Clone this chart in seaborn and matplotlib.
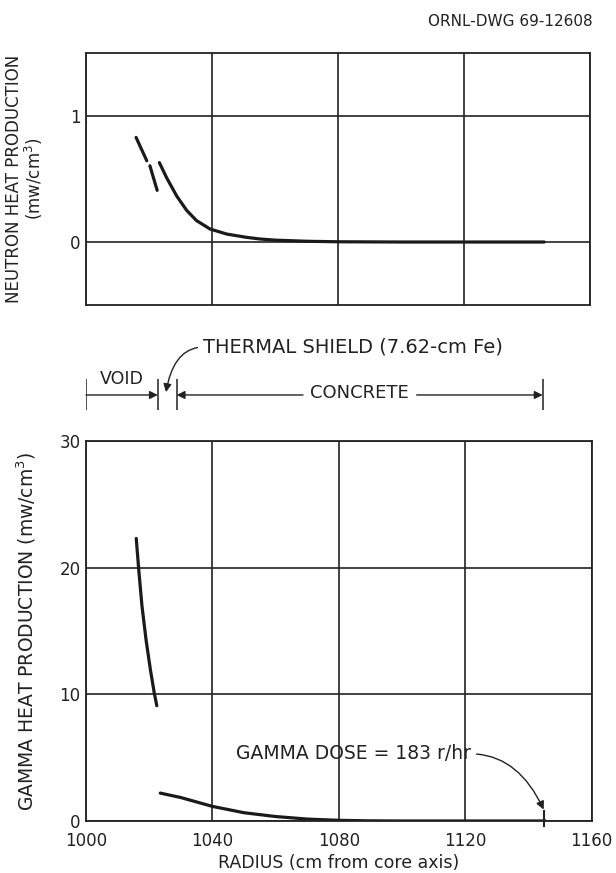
import numpy as np
import pandas as pd
import matplotlib
matplotlib.use("Agg")
import matplotlib.pyplot as plt
import seaborn as sns

# ---------------- data ----------------
neutron_seg = [0, 0, 1, 1,
               2, 2, 2, 2, 2, 2, 2, 2, 2, 2, 2, 2, 2, 2, 2]
neutron_r = [1015.9, 1019.3, 1020.3, 1022.6,
             1023.3, 1025.6, 1028.8, 1032.0, 1035.1, 1039.4, 1044.7, 1051.0,
             1055.2, 1060.0, 1070.0, 1080.0, 1090.0, 1100.0, 1145.5]
neutron_q = [0.83, 0.645, 0.605, 0.41,
             0.63, 0.51, 0.365, 0.25, 0.17, 0.103, 0.063, 0.037,
             0.024, 0.015, 0.006, 0.002, 0.001, 0.0, 0.0]

gamma_seg = [0, 0, 0, 0, 0, 0, 0,
             1, 1, 1, 1, 1, 1, 1, 1, 1, 1]
gamma_r = [1015.9, 1016.7, 1017.7, 1019.0, 1020.4, 1021.6, 1022.4,
           1023.5, 1030.0, 1040.0, 1050.0, 1060.0, 1070.0, 1080.0, 1090.0, 1100.0, 1145.3]
gamma_q = [22.3, 19.8, 17.0, 14.3, 11.9, 10.1, 9.1,
           2.2, 1.85, 1.15, 0.65, 0.35, 0.15, 0.05, 0.01, 0.0, 0.0]

x_ticks = [1000, 1040, 1080, 1120, 1160]
x_tick_labels = ["1000", "1040", "1080", "1120", "1160"]
neutron_ticks = [0, 1]
neutron_tick_labels = ["0", "1"]
gamma_ticks = [0, 10, 20, 30]
gamma_tick_labels = ["0", "10", "20", "30"]

region_bounds = [1000.0, 1022.8, 1028.8, 1145.0]  # void | shield | concrete
gamma_dose_r = 1145.0

neutron_df = pd.DataFrame({"r": neutron_r, "q": neutron_q, "seg": neutron_seg})
gamma_df = pd.DataFrame({"r": gamma_r, "q": gamma_q, "seg": gamma_seg})

# ---------------- figure ----------------
sns.set_theme(style="white")
plt.rcParams["font.family"] = ["DejaVu Sans"]
INK = "#222222"
FS_TICK = 12
FS_TXT = 13

fig = plt.figure(figsize=(6.16, 8.73), dpi=100)
fig.patch.set_facecolor("white")

ax_top = fig.add_axes([0.1396, 0.6506, 0.818, 0.2887])
ax_mid = fig.add_axes([0.1396, 0.5189, 0.818, 0.1031])
ax_bot = fig.add_axes([0.1396, 0.0596, 0.821, 0.4353])

line_kw = dict(color="#1a1a1a", lw=2.3, estimator=None, sort=False, legend=False)
sns.lineplot(data=neutron_df, x="r", y="q", units="seg", ax=ax_top, **line_kw)
sns.lineplot(data=gamma_df, x="r", y="q", units="seg", ax=ax_bot, **line_kw)

for ax in (ax_top, ax_bot):
    ax.set_xlim(1000, 1160)
    ax.set_xticks(x_ticks)
    ax.grid(True, color=INK, lw=1.2)
    ax.set_axisbelow(True)
    for s in ax.spines.values():
        s.set_visible(True)
        s.set_color(INK)
        s.set_linewidth(1.3)
    ax.tick_params(axis="y", length=0, labelsize=FS_TICK, colors=INK, pad=4)
    ax.tick_params(axis="x", length=0, labelsize=FS_TICK, colors=INK, pad=8)
    ax.set_facecolor("white")

ax_top.set_ylim(-0.5, 1.5)
ax_top.set_yticks(neutron_ticks)
ax_top.set_yticklabels(neutron_tick_labels)
ax_top.set_xticklabels([])
ax_top.set_xlabel("")
ax_top.set_ylabel("NEUTRON HEAT PRODUCTION\n(mw/cm$^3$)", fontsize=12, color=INK,
                  linespacing=0.95)
ax_top.yaxis.set_label_coords(-0.082, 0.5)

ax_bot.set_ylim(0, 30)
ax_bot.set_yticks(gamma_ticks)
ax_bot.set_yticklabels(gamma_tick_labels)
ax_bot.set_xticklabels(x_tick_labels)
ax_bot.set_xlabel("RADIUS (cm from core axis)", fontsize=12.5, color=INK, labelpad=3)
ax_bot.set_ylabel("GAMMA HEAT PRODUCTION (mw/cm$^3$)", fontsize=13.5, color=INK)
ax_bot.yaxis.set_label_coords(-0.095, 0.5)

# gamma dose annotation
ax_bot.vlines(gamma_dose_r, -0.45, 0.9, color=INK, lw=1.5, clip_on=False)
ax_bot.annotate("GAMMA DOSE = 183 r/hr", xy=(1144.8, 0.9), xytext=(1047.3, 5.3),
                fontsize=13.5, color=INK, ha="left", va="center",
                arrowprops=dict(arrowstyle="-|>", color=INK, lw=1.0,
                                mutation_scale=12, shrinkA=2, shrinkB=0,
                                relpos=(1.0, 0.5),
                                connectionstyle="angle3,angleA=0,angleB=-65"))

# ---------------- middle: region dimension lines ----------------
ax_mid.set_xlim(1000, 1160)
ax_mid.set_ylim(0, 1)
ax_mid.axis("off")
ax_mid.vlines(region_bounds, 0.11, 0.45, color=INK, lw=1.1)
akw = dict(arrowstyle="-|>", color=INK, lw=1.0, mutation_scale=12, shrinkA=0, shrinkB=0)
y_dim = 0.278
ax_mid.annotate("", xy=(region_bounds[1], y_dim), xytext=(region_bounds[0], y_dim), arrowprops=akw)
ax_mid.text((region_bounds[0] + region_bounds[1]) / 2, 0.45, "VOID", fontsize=12.5,
            color=INK, ha="center", va="center")
ax_mid.annotate("", xy=(region_bounds[2], y_dim), xytext=(1068.9, y_dim), arrowprops=akw)
ax_mid.annotate("", xy=(region_bounds[3], y_dim), xytext=(1105.0, y_dim), arrowprops=akw)
ax_mid.text(1086.9, y_dim + 0.02, "CONCRETE", fontsize=FS_TXT, color=INK,
            ha="center", va="center")
ax_mid.annotate("THERMAL SHIELD (7.62-cm Fe)", xy=(1025.4, 0.31), xytext=(1037.3, 0.81),
                fontsize=14, color=INK, ha="left", va="center",
                arrowprops=dict(arrowstyle="-|>", color=INK, lw=1.0,
                                mutation_scale=12, shrinkA=2, shrinkB=0,
                                relpos=(0.0, 0.5),
                                connectionstyle="angle3,angleA=0,angleB=80"))

fig.text(593 / 616, 1 - 22 / 873, "ORNL-DWG 69-12608", fontsize=11, color=INK,
         ha="right", va="center")

fig.savefig("out.png", dpi=100, facecolor="white")
